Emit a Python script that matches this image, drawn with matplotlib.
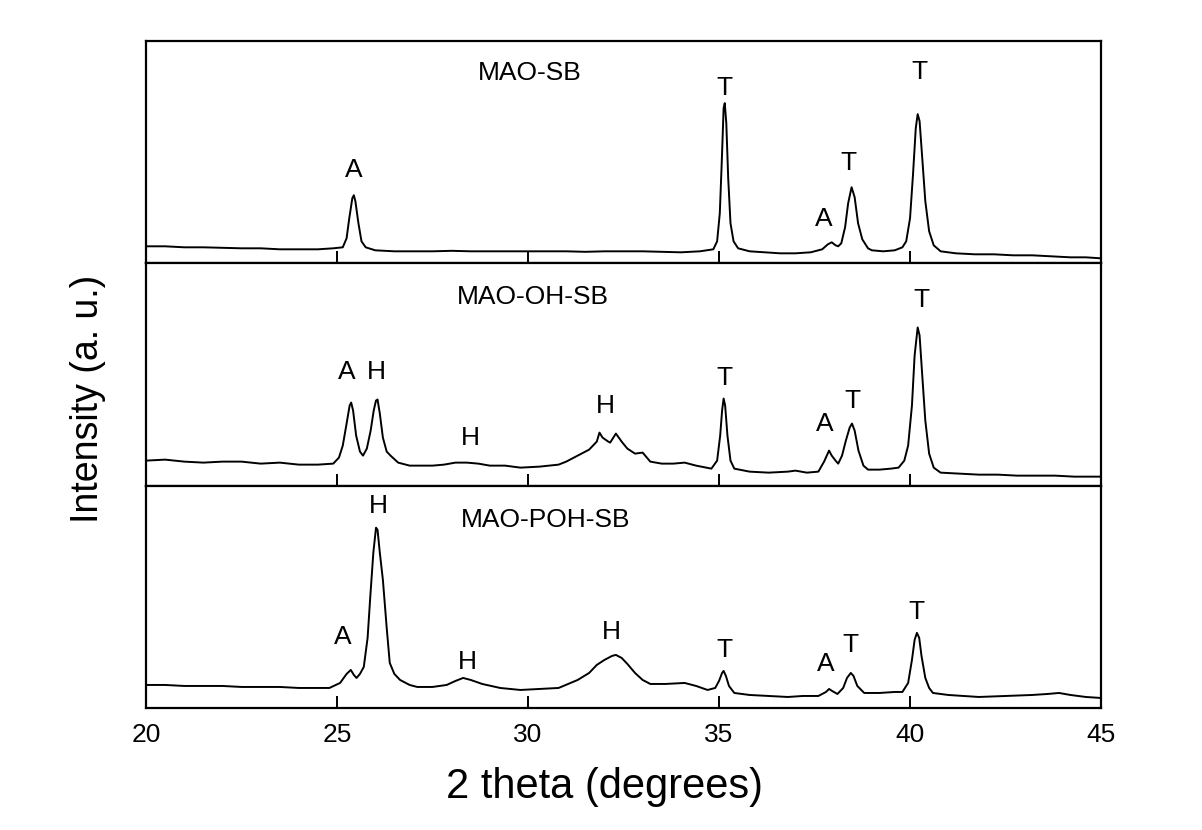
import matplotlib
matplotlib.use("Agg")
import matplotlib.pyplot as plt

plt.rcParams['font.family'] = ['Liberation Sans', 'DejaVu Sans']

# ---- data (2 theta, intensity in arbitrary units) ----
names = ['MAO-SB', 'MAO-OH-SB', 'MAO-POH-SB']

sb_x = [20.0, 20.5, 21.0, 21.5, 22.0, 22.5, 23.0, 23.5, 24.0, 24.5, 24.9,
        25.15, 25.25, 25.32, 25.4, 25.44, 25.48, 25.56, 25.64, 25.75, 26.0,
        26.5, 27.0, 27.5, 28.0, 28.5, 29.0, 29.5, 30.0, 30.5, 31.0, 31.5,
        32.0, 32.5, 33.0, 33.5, 34.0, 34.5, 34.85, 34.95, 35.02, 35.07,
        35.12, 35.15, 35.19, 35.24, 35.3, 35.38, 35.5, 35.8, 36.2, 36.6,
        37.0, 37.4, 37.7, 37.85, 37.95, 38.05, 38.12, 38.2, 38.3, 38.38,
        38.47, 38.55, 38.64, 38.75, 38.9, 39.0, 39.3, 39.6, 39.8, 39.9,
        40.0, 40.08, 40.15, 40.2, 40.25, 40.32, 40.4, 40.5, 40.62, 40.8,
        41.2, 41.7, 42.2, 42.7, 43.2, 43.7, 44.2, 44.6, 45.0]
sb_y = [17, 17, 16, 16, 15.5, 15, 15, 14, 14, 14, 15,
        16, 25, 45, 65, 68, 62, 40, 22, 16, 13,
        12, 12, 12, 12.5, 12, 12, 12, 12, 12, 12, 11.5,
        12, 12, 12, 11.5, 11, 12, 14, 22, 50, 100,
        155, 160, 140, 85, 40, 22, 15, 12, 11, 10,
        10, 11, 14, 19, 21, 18, 17, 20, 36, 60,
        76, 66, 40, 24, 15, 13, 12, 13, 16, 22,
        45, 90, 135, 149, 142, 105, 62, 32, 18, 12,
        10, 9, 9, 8, 8, 7, 6, 6, 5]

oh_x = [20.0, 20.5, 21.0, 21.5, 22.0, 22.5, 23.0, 23.5, 24.0, 24.5, 24.9,
        25.05, 25.15, 25.25, 25.33, 25.37, 25.42, 25.5, 25.6, 25.68, 25.78,
        25.88, 25.96, 26.02, 26.06, 26.12, 26.2, 26.3, 26.4, 26.6, 26.9,
        27.2, 27.5, 27.8, 28.1, 28.4, 28.7, 29.0, 29.4, 29.8, 30.3, 30.8,
        31.0, 31.3, 31.6, 31.8, 31.87, 31.95, 32.1, 32.15, 32.3, 32.45,
        32.6, 32.8, 33.0, 33.2, 33.5, 33.8, 34.1, 34.4, 34.8, 34.95, 35.03,
        35.08, 35.12, 35.16, 35.22, 35.3, 35.4, 35.8, 36.3, 36.8, 37.0,
        37.3, 37.6, 37.75, 37.88, 37.95, 38.05, 38.12, 38.22, 38.32, 38.42,
        38.48, 38.55, 38.65, 38.78, 38.9, 39.2, 39.5, 39.7, 39.85, 39.95,
        40.05, 40.12, 40.2, 40.25, 40.32, 40.4, 40.5, 40.62, 40.8, 41.3,
        41.8, 42.3, 42.8, 43.3, 43.8, 44.3, 45.0]
oh_y = [25, 26, 24, 23, 24, 24, 22, 23, 21, 21, 22,
        28, 40, 62, 80, 83, 75, 50, 34, 30, 37,
        55, 75, 85, 86, 72, 48, 34, 30, 23, 20,
        20, 20, 21, 23, 23, 22, 20, 20, 18, 19, 21,
        24, 30, 36, 44, 53, 48, 44, 43, 52, 44,
        37, 32, 33, 24, 22, 22, 23, 20, 17, 25, 50,
        75, 87, 80, 50, 25, 17, 14, 13, 14, 15,
        13, 14, 24, 35, 30, 25, 22, 30, 45, 58,
        62, 55, 35, 20, 16, 16, 17, 18, 25, 40,
        80, 130, 158, 150, 110, 65, 32, 18, 13, 12,
        11, 11, 10, 10, 10, 9, 9]

poh_x = [20.0, 20.5, 21.0, 21.5, 22.0, 22.5, 23.0, 23.5, 24.0, 24.5, 24.8,
         25.08, 25.25, 25.36, 25.44, 25.51, 25.6, 25.7, 25.8, 25.87, 25.95,
         26.02, 26.06, 26.12, 26.2, 26.3, 26.38, 26.5, 26.65, 26.9, 27.1,
         27.5, 27.87, 28.1, 28.3, 28.5, 28.8, 29.27, 29.8, 30.3, 30.8, 31.3,
         31.6, 31.8, 32.0, 32.2, 32.3, 32.45, 32.6, 32.8, 33.0, 33.2, 33.6,
         34.1, 34.4, 34.7, 34.9, 35.0, 35.08, 35.12, 35.18, 35.26, 35.4,
         35.8, 36.3, 36.8, 37.2, 37.6, 37.8, 37.88, 37.96, 38.1, 38.25,
         38.35, 38.45, 38.52, 38.62, 38.8, 39.2, 39.6, 39.8, 39.95, 40.05,
         40.12, 40.18, 40.24, 40.3, 40.4, 40.5, 40.6, 41.0, 41.8, 42.5,
         43.2, 43.6, 43.9, 44.2, 44.6, 45.0]
poh_y = [23, 23, 22, 22, 22, 21, 21, 21, 20, 20, 20,
         25, 34, 38, 33, 30, 34, 41, 70, 111, 155,
         180, 178, 155, 128, 80, 45, 34, 28, 23, 21,
         21, 23, 27, 30, 28, 24, 20, 18, 19, 20, 28,
         35, 43, 48, 52, 53, 50, 44, 35, 28, 24, 24,
         25, 22, 18, 20, 27, 35, 37, 32, 22, 15,
         13, 12, 11, 12, 12, 16, 19, 17, 14, 20,
         30, 35, 32, 22, 15, 15, 16, 16, 25, 48,
         68, 75, 70, 52, 30, 20, 15, 13, 11, 12,
         13, 14, 15, 13, 11, 10]

# peak labels: (letter, 2theta, intensity)
sb_marks = [('A', 25.45, 93), ('T', 35.13, 175), ('A', 37.75, 44),
            ('T', 38.4, 100), ('T', 40.24, 191)]
oh_marks = [('A', 25.26, 113), ('H', 26.02, 113), ('H', 28.5, 48),
            ('H', 32.02, 80), ('T', 35.13, 108), ('A', 37.78, 62),
            ('T', 38.48, 85), ('T', 40.29, 185)]
poh_marks = [('H', 26.07, 202), ('A', 25.16, 71), ('H', 28.4, 46),
             ('H', 32.17, 76), ('T', 35.13, 58), ('A', 37.8, 44),
             ('T', 38.43, 63), ('T', 40.16, 96)]
name_pos = [(30.05, 190), (30.13, 188), (30.45, 188)]

xs = [sb_x, oh_x, poh_x]
ys = [sb_y, oh_y, poh_y]
marks = [sb_marks, oh_marks, poh_marks]

fig, axes = plt.subplots(3, 1, sharex=True, figsize=(12.02, 8.3), dpi=100,
                         gridspec_kw={'hspace': 0})
fig.subplots_adjust(left=0.1215, right=0.916, top=0.9506, bottom=0.147)

for i, ax in enumerate(axes):
    ax.plot(xs[i], ys[i], color='black', lw=1.4)
    ax.set_xlim(20, 45)
    ax.set_ylim(0, 222)
    ax.set_yticks([])
    for s in ax.spines.values():
        s.set_linewidth(1.6)
    ax.tick_params(axis='x', direction='in', length=9, width=1.4,
                   labelsize=19, pad=11)
    ax.set_xticks([20, 25, 30, 35, 40, 45])
    ax.text(name_pos[i][0], name_pos[i][1], names[i], fontsize=19,
            ha='center', va='center')
    for lab, mx, my in marks[i]:
        ax.text(mx, my, lab, fontsize=19, ha='center', va='center')

fig.text(0.503, 0.052, '2 theta (degrees)', fontsize=30, ha='center', va='center')
fig.text(0.073, 0.52, 'Intensity (a. u.)', fontsize=27, ha='center',
         va='center', rotation=90)

fig.savefig('out.png', dpi=100)
